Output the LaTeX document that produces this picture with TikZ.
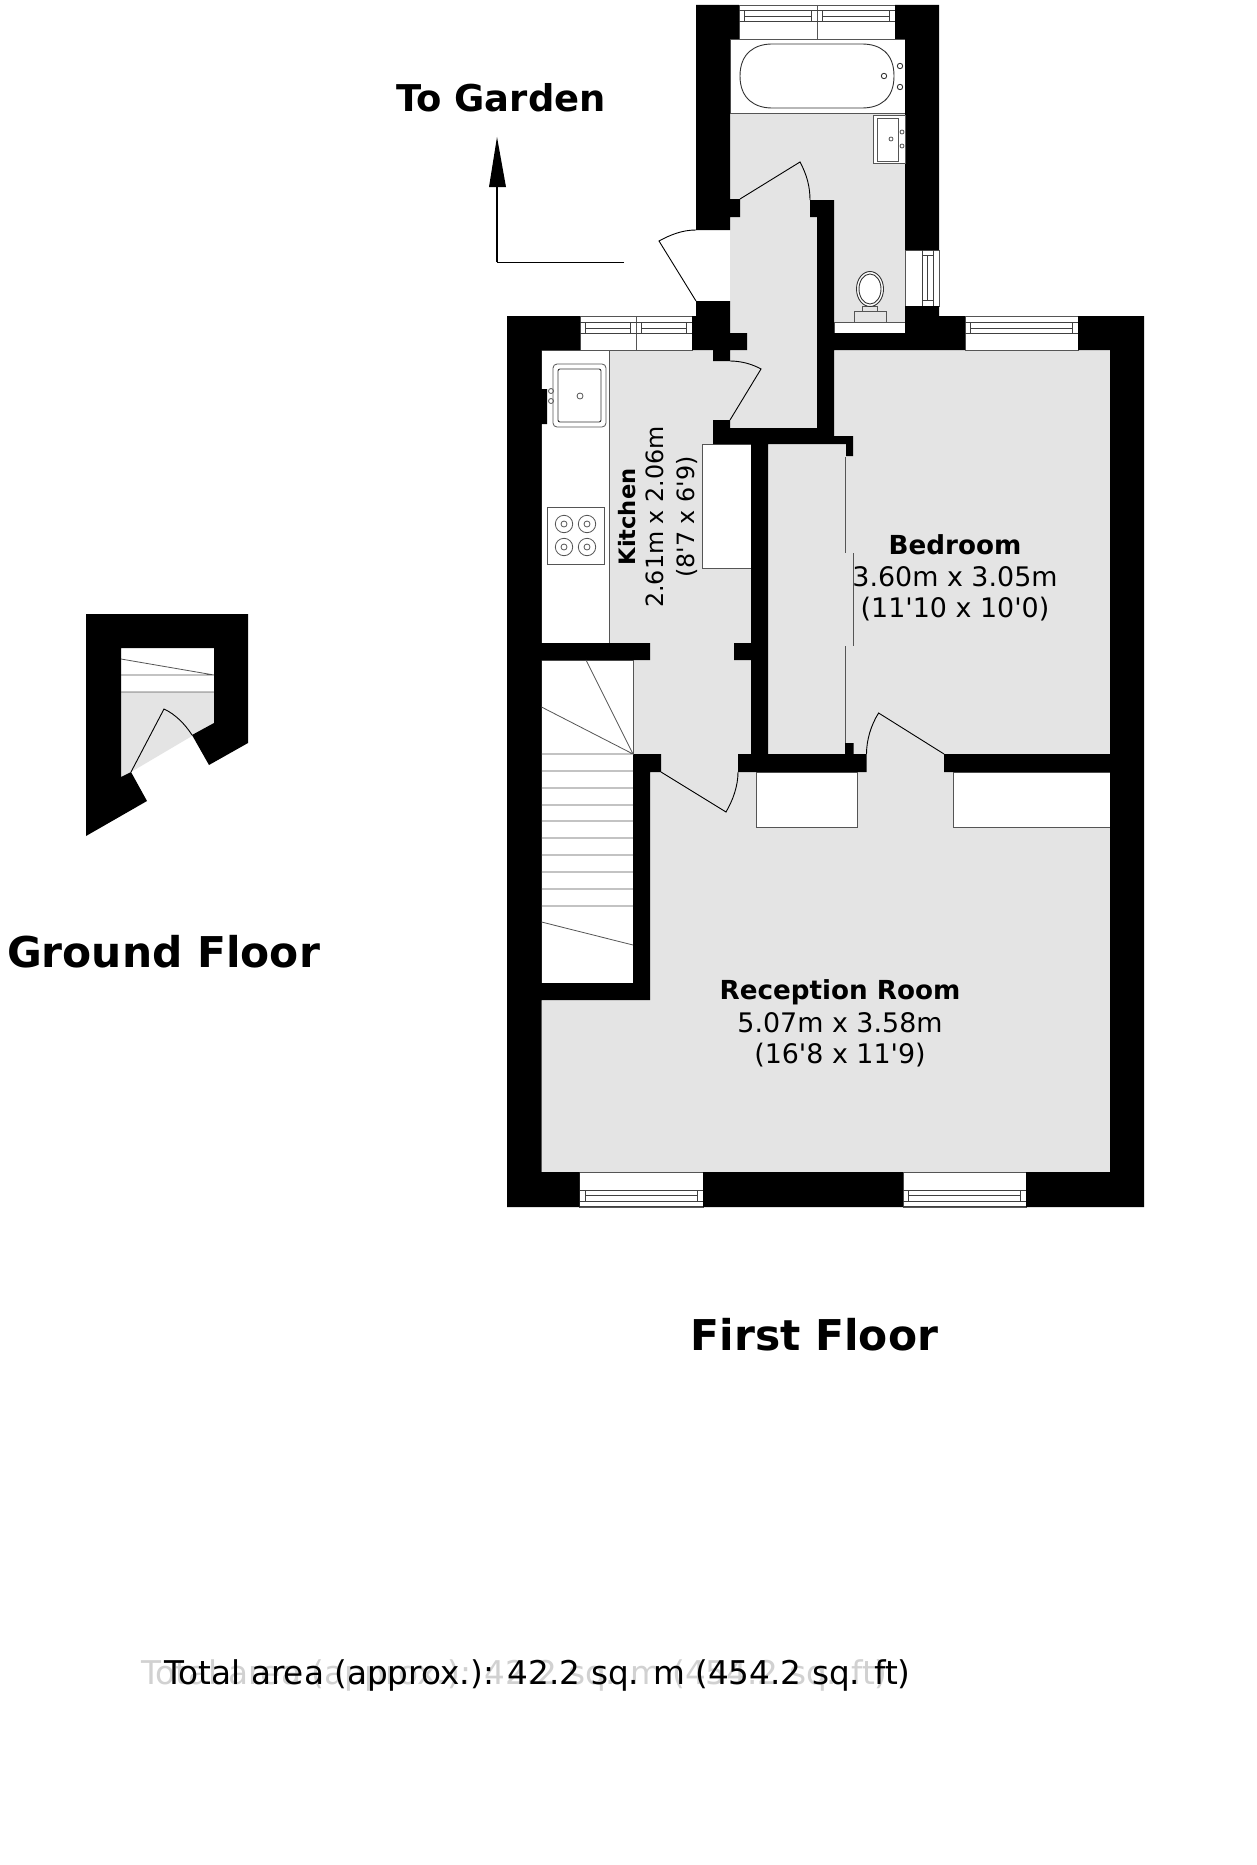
\documentclass[tikz,border=0pt]{standalone}
\usepackage{fontspec}
\setmainfont[Ligatures=TeXOff]{DejaVu Sans}
\definecolor{room}{HTML}{E4E4E4}
\definecolor{edge}{HTML}{555555}
\newcommand\fsz[1]{\fontsize{#1}{#1}\selectfont}
\newcommand\hsash[5]{%
  \draw[glass] (#1,#3) -- (#2,#3) (#1,#5) -- (#2,#5)
    ({#1+5.5},#3) -- ({#1+5.5},#5) ({#2-5.5},#3) -- ({#2-5.5},#5)
    ({#1+5.5},#4) -- ({#2-5.5},#4);}
\tikzset{
  wall/.style={fill=black},
  floorarea/.style={fill=room},
  white area/.style={fill=white},
  thin edge/.style={draw=edge,line width=0.8pt},
  fitting/.style={draw=black!80,line width=0.9pt},
  doorleaf/.style={draw=black,line width=0.9pt},
  glass/.style={draw=black!75,line width=1pt},
  heading/.style={font=\bfseries\fsz{42.4},inner sep=0pt,anchor=center},
  roomname/.style={font=\bfseries\fsz{26.2},inner sep=0pt,anchor=center},
  roomsize/.style={font=\fsz{26.9},inner sep=0pt,anchor=center},
  kitname/.style={font=\bfseries\fsz{22.6},inner sep=0pt,anchor=center,rotate=90},
  kitsize/.style={font=\fsz{23.8},inner sep=0pt,anchor=center,rotate=90},
  areatext/.style={font=\fsz{32.7},inner sep=0pt,anchor=center}
}
\begin{document}
\begin{tikzpicture}[x=1pt,y=-1pt]
\useasboundingbox (0,0) rectangle (1256,1865);
\fill[white] (0,0) rectangle (1256,1865);

% ---------- first floor: room floors
\fill[floorarea] (730,113) rectangle (905,322);
\fill[floorarea] (730,217) rectangle (817,428);
\fill[floorarea] (609,350) rectangle (751,754);
\fill[floorarea] (650,660) rectangle (751,1000);
\fill[floorarea] (650,754) rectangle (1110,1172);
\fill[floorarea] (541.5,1000) rectangle (1110,1172);
\fill[floorarea] (768,444) rectangle (1110,754);
\fill[floorarea] (834,350) rectangle (1110,444);

% white fittings
\path[white area,thin edge] (730,39) rectangle (905,113);
\path[white area,thin edge] (834,322) rectangle (905,333);
\path[white area,thin edge] (541.5,350) rectangle (609,643);
\path[white area,thin edge] (541.5,660) rectangle (633,983);
\path[white area,thin edge] (702,444) rectangle (751,568);
\path[white area,thin edge] (756,772) rectangle (857.6,827);
\path[white area,thin edge] (953.6,772) rectangle (1110,827);

% windows
\path[white area,thin edge] (739,5) rectangle (895,39);
\draw[thin edge] (817,5) -- (817,39);
\hsash{739}{817}{11}{17}{22}
\hsash{817}{895}{11}{17}{22}
\path[white area,thin edge] (580,316) rectangle (692,350);
\draw[thin edge] (636,316) -- (636,350);
\hsash{580}{636}{322}{328}{333}
\hsash{636}{692}{322}{328}{333}
\path[white area,thin edge] (965,316) rectangle (1078,350);
\hsash{965}{1078}{322}{328}{333}
\path[white area,thin edge] (579.5,1172) rectangle (703,1207);
\hsash{579.5}{703}{1190}{1195}{1201}
\path[white area,thin edge] (903,1172) rectangle (1026,1207);
\hsash{903}{1026}{1190}{1195}{1201}
\draw[glass] (579.5,1206) -- (703,1206) (903,1206) -- (1026,1206);
\path[white area,thin edge] (905,250) rectangle (939,306);
\draw[glass] (922,250) -- (922,306) (933,250) -- (933,306)
  (922,255.5) -- (933,255.5) (922,300.5) -- (933,300.5) (927.5,255.5) -- (927.5,300.5);

% walls
\fill[wall]
  (696,5) rectangle (739,39) (895,5) rectangle (939,39)
  (696,39) rectangle (730,230) (730,199) rectangle (740,217)
  (905,39) rectangle (939,250) (905,306) rectangle (939,333)
  (939,316) rectangle (965,350) (817,333) rectangle (939,350)
  (810,200) rectangle (834,217) (817,217) rectangle (834,428)
  (696,301) rectangle (730,333) (692,316) rectangle (730,333)
  (692,333) rectangle (747,350) (713,350) rectangle (730,361)
  (713,420) rectangle (730,444) (713,428) rectangle (834,444)
  (834,436) rectangle (853,444) (846,444) rectangle (853,456)
  (751,444) rectangle (768,754)
  (507,316) rectangle (580,350) (507,350) rectangle (541.5,1207)
  (507,1172) rectangle (579.5,1207) (703,1172) rectangle (903,1207)
  (1026,1172) rectangle (1144,1207) (1110,350) rectangle (1144,1172)
  (1078,316) rectangle (1144,350)
  (541,389) rectangle (547,424)
  (507,643) rectangle (650,660) (734,643) rectangle (751,660)
  (633,754) rectangle (661,772) (633,772) rectangle (650,983)
  (507,983) rectangle (650,1000)
  (738,754) rectangle (866.5,772) (845,743) rectangle (853.6,754)
  (944,754) rectangle (1144,772);

% stairs
\draw[thin edge]
  (541.5,754) -- (633,754) (541.5,771) -- (633,771) (541.5,788) -- (633,788)
  (541.5,805) -- (633,805) (541.5,821) -- (633,821) (541.5,838) -- (633,838)
  (541.5,855) -- (633,855) (541.5,872) -- (633,872) (541.5,889) -- (633,889)
  (541.5,906) -- (633,906) (541.5,922) -- (633,945)
  (541.5,707) -- (633,754) -- (586,660);

% sliding wardrobe doors
\draw[thin edge] (845,457) -- (845,553) (853,553) -- (853,646) (845,646) -- (845,743);

% doors
\draw[doorleaf] (740,199) -- (800,162) .. controls (807,175) and (810,187) .. (810,200);
\draw[doorleaf] (730,420) -- (761,369) .. controls (752,364) and (741,361) .. (730,361);
\draw[doorleaf] (696,301) -- (659,241) .. controls (670,235) and (682,230) .. (696,230);
\draw[doorleaf] (661,772) -- (726,812) .. controls (733,800) and (738,786) .. (738,772);
\draw[doorleaf] (944,754) -- (878.6,713) .. controls (871,725) and (866.5,740) .. (866.5,754);

% bath
\draw[fitting] (740,76) .. controls (740,53) and (755,44) .. (772,44) -- (862,44)
  .. controls (880,44) and (894,53) .. (894,76)
  .. controls (894,99) and (880,108) .. (862,108) -- (772,108)
  .. controls (755,108) and (740,99) .. (740,76) -- cycle;
\draw[fitting] (900,66) circle[radius=2.7] (900,87) circle[radius=2.7] (884,76) circle[radius=2.7];
% basin
\path[white area,thin edge] (873,115) rectangle (905,163);
\draw[thin edge] (877,118) rectangle (898,161);
\draw[thin edge] (891,139) circle[radius=2] (902,132) circle[radius=2] (902,146) circle[radius=2];
% toilet
\draw[thin edge] (854,311) rectangle (886,322) (862,306) rectangle (877,311);
\draw[fitting,fill=white] (870,289) ellipse[x radius=13.5,y radius=17.5];
\draw[fitting] (870,289) ellipse[x radius=11,y radius=15];
% sink
\draw[thin edge,rounded corners=4pt] (553,364) rectangle (606,427);
\draw[fitting,rounded corners=2pt] (558,369) rectangle (601,422);
\draw[thin edge] (580,396) circle[radius=3] (551,391) circle[radius=2.5] (551,401) circle[radius=2.5];
% hob
\draw[thin edge] (547,507) rectangle (604,564);
\draw[thin edge]
  (564,524) circle[radius=8.7] (564,524) circle[radius=3]
  (587,524) circle[radius=8.7] (587,524) circle[radius=3]
  (564,547) circle[radius=8.7] (564,547) circle[radius=3]
  (587,547) circle[radius=8.7] (587,547) circle[radius=3];

% arrow to garden
\coordinate (arrowstart) at (624,262);
\coordinate (arrowbend) at (497,262);
\coordinate (arrowbase) at (497,187);
\draw[black,line width=1pt] (arrowstart) -- (arrowbend);
\draw[black,line width=1.5pt] (arrowbend) -- (arrowbase);
\fill[black] (497,137) -- (506,187) -- (489,187) -- cycle;

% ---------- ground floor
\fill[floorarea] (121,692) -- (214,692) -- (214,723) -- (131,772) -- (121,777) -- cycle;
\fill[white] (121,648) rectangle (214,692);
\fill[wall] (86,614) -- (248,614) -- (248,743) -- (209,765) -- (192,735) -- (214,723)
  -- (214,648) -- (121,648) -- (121,777) -- (131,772) -- (147,801) -- (86,836) -- cycle;
\draw[thin edge] (121,659) -- (214,675) -- (121,675) (121,692) -- (214,692);
\draw[doorleaf] (131,772) -- (164,709) .. controls (175,714) and (185,724) .. (192,735);

% ---------- texts
\node[heading,font=\bfseries\fsz{36.9}] (togarden) at (501,97.5) {To Garden};
\node[heading] (groundfloor) at (163.5,952) {Ground Floor};
\node[heading] (firstfloor) at (814.5,1335) {First Floor};
\node[roomname] (bedname) at (955,545) {Bedroom};
\node[roomsize] (bedmetric) at (955,577) {3.60m x 3.05m};
\node[roomsize] (bedimperial) at (955,609) {(11'10 x 10'0)};
\node[roomname] (recname) at (840,992) {Reception Room};
\node[roomsize] (recmetric) at (840,1023) {5.07m x 3.58m};
\node[roomsize] (recimperial) at (840,1055) {(16'8 x 11'9)};
\node[kitname] (kitchenname) at (627,517) {Kitchen};
\node[kitsize] (kitmetric) at (655,517) {2.61m x 2.06m};
\node[kitsize] (kitimperial) at (687,517) {(8'7 x 6'9)};
\node[areatext,text=black!18] (areaghost) at (514.5,1675) {Total area (approx.): 42.2 sq. m (454.2 sq. ft)};
\node[areatext] (areatotal) at (537.5,1675) {Total area (approx.): 42.2 sq. m (454.2 sq. ft)};
\end{tikzpicture}
\end{document}
